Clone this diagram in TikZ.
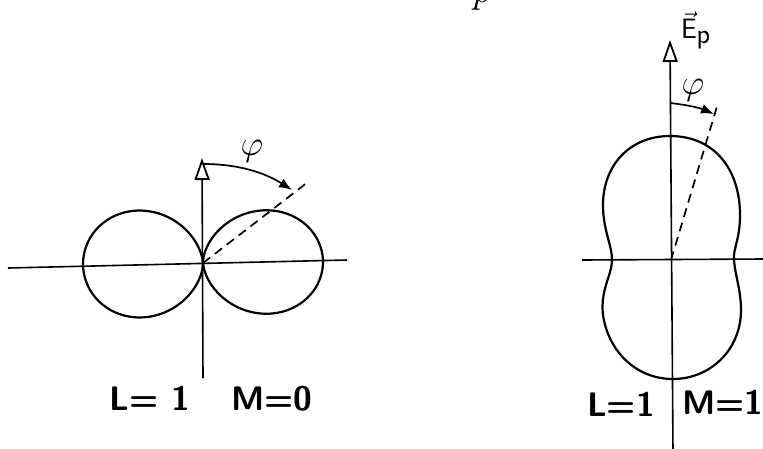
\documentclass[tikz,border=0pt]{standalone}
\usepackage{graphicx}
\usepackage{fontspec}
\usetikzlibrary{arrows.meta}
\begin{document}
\begin{tikzpicture}[x=1pt,y=-1pt,
  axisline/.style={line width=1.6pt},
  axarrow/.style={line width=1.6pt,-{Triangle[open,length=22pt,width=15pt,line width=1.8pt]}},
  curve/.style={line width=2.2pt,line join=round},
  dashln/.style={line width=1.7pt,dash pattern=on 9pt off 6pt},
  anglearr/.style={line width=1.7pt,-{Latex[length=13pt,width=10pt]}},
  lbl/.style={font=\sffamily\bfseries\fontsize{34}{34}\selectfont,inner sep=0pt,anchor=base},
  phil/.style={font=\fontsize{20}{20}\selectfont,inner sep=0pt}]
\useasboundingbox (0,0) rectangle (763,448);

% ---------- left: L=1, M=0 ----------
\coordinate (O1) at (203,263);
\coordinate (H1a) at (8,268);
\coordinate (H1b) at (347,260);
\coordinate (V1a) at (203,378);
\coordinate (V1b) at (202,158);
\draw[axisline] (H1a) -- (H1b);
\draw[axarrow] (V1a) -- (V1b);
% lobes r = R cos^{1.5}
\draw[curve] (O1) -- plot[domain=-89:89,samples=120,smooth,variable=\t]
  ({203 + 120*pow(cos(\t),2.5)},{262 - 120*pow(cos(\t),1.5)*sin(\t)}) -- cycle;
\draw[curve] (O1) -- plot[domain=-89:89,samples=120,smooth,variable=\t]
  ({203 - 120*pow(cos(\t),2.5)},{264 - 124*pow(cos(\t),1.5)*sin(\t)}) -- cycle;
\coordinate (D1) at (308,182);
\draw[dashln] (O1) -- (D1);
\coordinate (A1s) at (203,164);
\coordinate (A1e) at (292,190);
\draw[anglearr] (A1s) .. controls (245,164) and (270,176) .. (A1e);
\node[phil] (phi1) at (252,151) {\scalebox{1.7}{$\varphi$}};
\node[lbl] (L1) at (150,410) {L= 1};
\node[lbl] (M1) at (272,410) {M=0};

% ---------- right: L=1, M=1 ----------
\coordinate (O2) at (671,260);
\coordinate (H2a) at (582,260);
\coordinate (H2b) at (763,259);
\coordinate (V2a) at (673,452);
\coordinate (V2b) at (670,40);
\draw[axisline] (H2a) -- (H2b);
\draw[axarrow] (V2a) -- (V2b);
\draw[curve] (670,136) .. controls (715,136) and (740,170) .. (740,215)
  .. controls (740,240) and (733,248) .. (734,260)
  .. controls (735,275) and (741,290) .. (741,310)
  .. controls (741,350) and (710,379) .. (673,379)
  .. controls (635,379) and (608,350) .. (603,315)
  .. controls (600,290) and (612,275) .. (612,260)
  .. controls (612,245) and (603,230) .. (603,205)
  .. controls (603,165) and (630,136) .. (670,136) -- cycle;
\coordinate (D2) at (718,103);
\draw[dashln] (O2) -- (D2);
\coordinate (A2s) at (670,103);
\coordinate (A2e) at (714,114);
\draw[anglearr] (A2s) .. controls (688,105) and (700,108) .. (A2e);
\node[phil] (phi2) at (693,90) {\scalebox{1.7}{$\varphi$}};
\node[phil] (Ep) at (696,30) {\scalebox{1.4}{$\vec{\mathsf{E}}_{\textstyle\mathsf{p}}$}};
\node[lbl] (L2) at (621,416) {L=1};
\node[lbl] (M2) at (723,414) {M=1};

% cropped text at top edge
\node[font=\fontsize{40}{40}\selectfont\itshape,inner sep=0pt,anchor=base] (ptop) at (481,2) {p};
\end{tikzpicture}
\end{document}
